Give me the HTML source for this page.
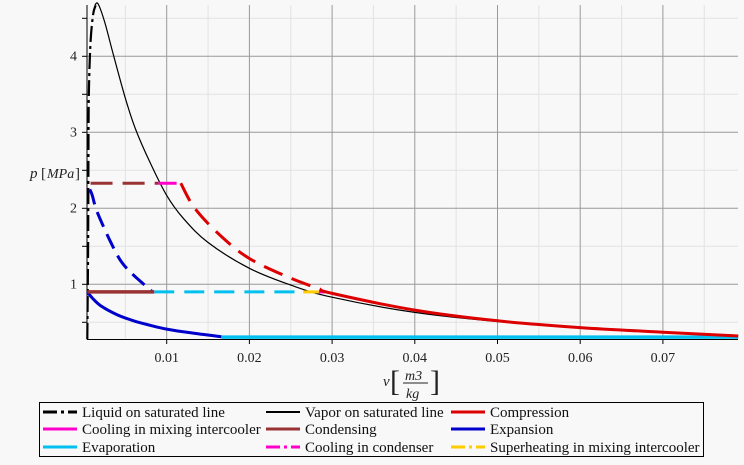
<!DOCTYPE html>
<html><head><meta charset="utf-8"><style>
html,body{margin:0;padding:0;background:#f8f8f8;}
svg{display:block;font-family:"Liberation Serif",serif;}
</style></head><body>
<svg id="s" width="744" height="465" xmlns="http://www.w3.org/2000/svg"></svg>
<script>
const X=v=>84+v*8270, Y=p=>360.3-76*p;
let o='';
for(let v=0.005;v<0.079;v+=0.01) o+=`<line x1="${X(v)}" y1="5" x2="${X(v)}" y2="339" stroke="#e2e2e2"/>`;
for(let p=0.5;p<4.7;p+=1) o+=`<line x1="87" y1="${Y(p)}" x2="738" y2="${Y(p)}" stroke="#e2e2e2"/>`;
for(let i=1;i<=7;i++){let x=X(i/100);o+=`<line x1="${x}" y1="5" x2="${x}" y2="339" stroke="#999"/><line x1="${x}" y1="339" x2="${x}" y2="344" stroke="#000"/><text x="${x}" y="362" font-size="14" text-anchor="middle" fill="#222">0.0${i}</text>`;}
for(let i=0.5;i<=4.5;i+=0.5){let y=Y(i);if(Number.isInteger(i)){o+=`<line x1="87" y1="${y}" x2="738" y2="${y}" stroke="#999"/><text x="77" y="${y+4}" font-size="14" text-anchor="end" fill="#222">${i}</text>`;}o+=`<line x1="82" y1="${y}" x2="87" y2="${y}" stroke="#000"/>`;}
o+=`<line x1="87" y1="5" x2="87" y2="339.5" stroke="#000"/><line x1="87" y1="339.5" x2="738" y2="339.5" stroke="#000"/>`;
const pl=(pts,st,w,da)=>{const P=pts.map(a=>[X(a[0]),Y(a[1])]);let d=`M${P[0][0].toFixed(1)},${P[0][1].toFixed(1)}`;
for(let i=0;i<P.length-1;i++){const p0=P[Math.max(i-1,0)],p1=P[i],p2=P[i+1],p3=P[Math.min(i+2,P.length-1)];
const c1=[p1[0]+(p2[0]-p0[0])/6,p1[1]+(p2[1]-p0[1])/6],c2=[p2[0]-(p3[0]-p1[0])/6,p2[1]-(p3[1]-p1[1])/6];
d+=` C${c1[0].toFixed(1)},${c1[1].toFixed(1)} ${c2[0].toFixed(1)},${c2[1].toFixed(1)} ${p2[0].toFixed(1)},${p2[1].toFixed(1)}`;}
return `<path fill="none" stroke="${st}" stroke-width="${w}" ${da?`stroke-dasharray="${da}"`:''} d="${d}"/>`;};
o+=pl([[0.0013,4.67],[0.0017,4.69],[0.0025,4.45],[0.0036,4.0],[0.005,3.45],[0.0062,3.05],[0.008,2.6],[0.01,2.17],[0.012,1.87],[0.015,1.55],[0.02,1.21],[0.025,0.99],[0.03,0.83],[0.04,0.63],[0.05,0.51],[0.06,0.43],[0.07,0.37],[0.0791,0.33]],'#000',1.2);
o+=pl([[0.0004,0.28],[0.0005,1.5],[0.00055,3.0],[0.0006,3.6],[0.0008,4.2],[0.0011,4.55],[0.0014,4.67]],'#000',2.2,'16,4,3,4');
o+=pl([[0.0166,0.305],[0.0791,0.305]],'#00c0f0',3.5);
o+=pl([[0.0004,0.9],[0.001,0.82],[0.002,0.72],[0.004,0.6],[0.006,0.52],[0.008,0.46],[0.01,0.41],[0.013,0.36],[0.0166,0.31]],'#0000cc',3);
o+=pl([[0.0007,2.25],[0.001,2.17],[0.0016,1.95],[0.0032,1.56],[0.0045,1.3],[0.006,1.12],[0.0083,0.9]],'#0000cc',3,'16,8');
o+=pl([[0.0004,0.9],[0.0085,0.9]],'#993333',3.5);
o+=pl([[0.0008,2.33],[0.009,2.33]],'#993333',3,'22,10');
o+=pl([[0.009,2.33],[0.0112,2.33]],'#ff00cc',3);
o+=pl([[0.0085,0.9],[0.0265,0.9]],'#00c0f0',3,'20,10');
o+=pl([[0.0265,0.9],[0.0284,0.9]],'#ffcc00',3);
o+=pl([[0.0284,0.9],[0.0292,0.9]],'#ff00cc',3);
o+=pl([[0.0117,2.33],[0.0134,2.0],[0.0165,1.64],[0.02,1.34],[0.025,1.08],[0.0285,0.94]],'#dd0000',3,'20,10');
o+=pl([[0.0285,0.94],[0.03,0.88],[0.04,0.66],[0.05,0.52],[0.06,0.43],[0.07,0.37],[0.0791,0.32]],'#dd0000',3);
o+=`<text x="30" y="178" font-size="15" font-style="italic" fill="#222">p</text><text x="41" y="178" font-size="15" fill="#222">[</text><text x="47" y="178" font-size="14" font-style="italic" fill="#222">MPa</text><text x="75" y="178" font-size="15" fill="#222">]</text>`;
o+=`<text x="383" y="386" font-size="15" font-style="italic" fill="#222">v</text><text x="390" y="391" font-size="30" fill="#222">[</text><text x="405" y="380" font-size="14" font-style="italic" fill="#222">m3</text><line x1="403" y1="383" x2="428" y2="383" stroke="#222"/><text x="406" y="398" font-size="14" font-style="italic" fill="#222">kg</text><text x="430" y="391" font-size="30" fill="#222">]</text>`;
o+=`<rect x="39.5" y="402.5" width="664" height="54" fill="none" stroke="#000"/>`;
const L=[[43,82,412,'#000','14,4,3,4','Liquid on saturated line'],[266,305,412,'#000','','Vapor on saturated line'],[451,490,412,'#dd0000','','Compression'],
[43,82,429,'#ff00cc','','Cooling in mixing intercooler'],[266,305,429,'#993333','','Condensing'],[451,490,429,'#0000cc','','Expansion'],
[43,82,447,'#00c0f0','','Evaporation'],[266,305,447,'#ff00cc','14,4,3,4','Cooling in condenser'],[451,490,447,'#ffcc00','14,4,3,4','Superheating in mixing intercooler']];
for(const l of L){o+=`<line x1="${l[0]}" y1="${l[2]}" x2="${l[0]+34}" y2="${l[2]}" stroke="${l[3]}" stroke-width="${l[3]=='#000'&&l[4]==''?2:3}" ${l[4]?`stroke-dasharray="${l[4]}"`:''}/><text x="${l[1]}" y="${l[2]+5}" font-size="15" fill="#111">${l[5]}</text>`;}
document.getElementById('s').innerHTML=o;
</script>
</body></html>
